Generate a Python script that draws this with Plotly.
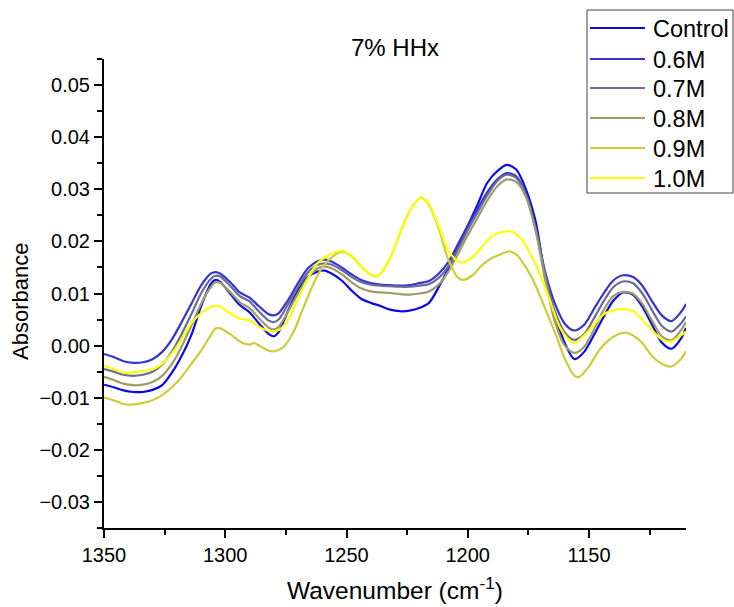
import plotly.graph_objects as go

# ---------------- data ----------------
series_names = ["Control", "0.6M", "0.7M", "0.8M", "0.9M", "1.0M"]
series_colors = ["#0A0AEB", "#3535CC", "#6A6A9E", "#9C9C6A", "#CDCD3A", "#FFFF00"]

wn_control = [1350, 1346, 1342, 1338, 1334, 1330, 1326, 1322, 1318, 1314, 1310, 1306, 1304, 1302,
              1298, 1294, 1290, 1286, 1282, 1280, 1278, 1274, 1270, 1266, 1262, 1259, 1256, 1252,
              1248, 1244, 1240, 1236, 1232, 1228, 1224, 1220, 1216, 1212, 1208, 1204, 1200, 1196,
              1192, 1188, 1184, 1180, 1176, 1172, 1168, 1164, 1160, 1156, 1152, 1148, 1144, 1140,
              1136, 1132, 1128, 1124, 1120, 1116, 1112, 1110]
abs_control = [-0.0075, -0.0080, -0.0086, -0.0089, -0.0089, -0.0085, -0.0076, -0.0052, -0.0020, 0.0020, 0.0075, 0.0118, 0.0126, 0.0122,
               0.0100, 0.0078, 0.0064, 0.0042, 0.0022, 0.0018, 0.0026, 0.0068, 0.0106, 0.0132, 0.0142, 0.0144, 0.0138, 0.0125,
               0.0106, 0.0090, 0.0082, 0.0076, 0.0069, 0.0066, 0.0067, 0.0072, 0.0082, 0.0112, 0.0148, 0.0190, 0.0230, 0.0270,
               0.0312, 0.0334, 0.0347, 0.0338, 0.0300, 0.0238, 0.0130, 0.0058, 0.0005, -0.0026, -0.0012, 0.0020, 0.0055, 0.0086,
               0.0102, 0.0098, 0.0075, 0.0040, 0.0006, -0.0006, 0.0014, 0.0034]

wn_06 = [1350, 1346, 1342, 1338, 1334, 1330, 1326, 1322, 1318, 1314, 1310, 1306, 1304, 1302,
         1298, 1294, 1290, 1286, 1282, 1280, 1278, 1274, 1270, 1266, 1262, 1259, 1256, 1252,
         1248, 1244, 1240, 1236, 1232, 1228, 1224, 1220, 1216, 1212, 1208, 1204, 1200, 1196,
         1192, 1188, 1184, 1180, 1176, 1172, 1168, 1164, 1160, 1156, 1152, 1148, 1144, 1140,
         1136, 1132, 1128, 1124, 1120, 1116, 1112, 1110]
abs_06 = [-0.0016, -0.0022, -0.0030, -0.0033, -0.0032, -0.0026, -0.0012, 0.0012, 0.0045, 0.0080, 0.0115, 0.0138, 0.0141, 0.0138,
          0.0122, 0.0102, 0.0092, 0.0075, 0.0060, 0.0058, 0.0062, 0.0088, 0.0120, 0.0148, 0.0162, 0.0165, 0.0161, 0.0150,
          0.0137, 0.0126, 0.0120, 0.0117, 0.0116, 0.0115, 0.0116, 0.0120, 0.0124, 0.0138, 0.0160, 0.0195, 0.0230, 0.0262,
          0.0294, 0.0318, 0.0331, 0.0325, 0.0290, 0.0225, 0.0140, 0.0080, 0.0042, 0.0029, 0.0040, 0.0070, 0.0100, 0.0125,
          0.0135, 0.0132, 0.0115, 0.0085, 0.0058, 0.0047, 0.0065, 0.0080]

wn_07 = wn_06
abs_07 = [-0.0045, -0.0050, -0.0056, -0.0058, -0.0056, -0.0050, -0.0036, -0.0012, 0.0022, 0.0060, 0.0100, 0.0128, 0.0134, 0.0132,
          0.0115, 0.0095, 0.0085, 0.0065, 0.0048, 0.0045, 0.0050, 0.0080, 0.0112, 0.0140, 0.0155, 0.0158, 0.0155, 0.0145,
          0.0132, 0.0122, 0.0117, 0.0115, 0.0114, 0.0113, 0.0113, 0.0115, 0.0118, 0.0130, 0.0152, 0.0185, 0.0222, 0.0255,
          0.0288, 0.0315, 0.0328, 0.0322, 0.0290, 0.0225, 0.0135, 0.0065, 0.0025, 0.0011, 0.0022, 0.0052, 0.0085, 0.0112,
          0.0123, 0.0120, 0.0100, 0.0068, 0.0038, 0.0027, 0.0043, 0.0056]

wn_08 = wn_06
abs_08 = [-0.0060, -0.0066, -0.0073, -0.0076, -0.0075, -0.0070, -0.0058, -0.0035, -0.0002, 0.0038, 0.0080, 0.0112, 0.0122, 0.0120,
          0.0103, 0.0083, 0.0072, 0.0052, 0.0034, 0.0031, 0.0036, 0.0066, 0.0100, 0.0130, 0.0148, 0.0152, 0.0148, 0.0137,
          0.0122, 0.0110, 0.0104, 0.0102, 0.0101, 0.0099, 0.0098, 0.0100, 0.0104, 0.0117, 0.0142, 0.0176, 0.0212, 0.0245,
          0.0278, 0.0305, 0.0319, 0.0314, 0.0285, 0.0220, 0.0125, 0.0045, 0.0000, -0.0014, -0.0002, 0.0030, 0.0068, 0.0095,
          0.0103, 0.0100, 0.0080, 0.0048, 0.0018, 0.0010, 0.0030, 0.0045]

wn_09 = [1350, 1346, 1342, 1338, 1334, 1330, 1326, 1322, 1318, 1314, 1310, 1306, 1304, 1302,
         1298, 1294, 1290, 1288, 1286, 1282, 1280, 1276, 1272, 1268, 1264, 1260, 1256, 1252,
         1248, 1244, 1240, 1238, 1236, 1232, 1228, 1224, 1220, 1219, 1216, 1212, 1208, 1204,
         1202, 1198, 1194, 1190, 1186, 1183, 1180, 1176, 1172, 1168, 1164, 1160, 1156, 1154,
         1150, 1146, 1142, 1138, 1135, 1132, 1128, 1124, 1120, 1116, 1112, 1110]
abs_09 = [-0.0100, -0.0105, -0.0112, -0.0113, -0.0110, -0.0105, -0.0095, -0.0080, -0.0060, -0.0035, -0.0010, 0.0020, 0.0033, 0.0033,
          0.0022, 0.0008, 0.0002, 0.0005, 0.0000, -0.0010, -0.0011, -0.0003, 0.0025, 0.0070, 0.0115, 0.0150, 0.0170, 0.0180,
          0.0172, 0.0152, 0.0136, 0.0133, 0.0138, 0.0168, 0.0215, 0.0258, 0.0282, 0.0284, 0.0270, 0.0225, 0.0165, 0.0130,
          0.0126, 0.0135, 0.0155, 0.0168, 0.0176, 0.0181, 0.0175, 0.0150, 0.0115, 0.0070, 0.0025, -0.0025, -0.0058, -0.0060,
          -0.0040, -0.0010, 0.0010, 0.0022, 0.0025, 0.0020, 0.0005, -0.0020, -0.0035, -0.0040, -0.0025, -0.0011]

wn_10 = [1350, 1346, 1342, 1338, 1334, 1330, 1326, 1322, 1318, 1314, 1310, 1306, 1304, 1302,
         1298, 1294, 1290, 1286, 1282, 1278, 1274, 1270, 1266, 1262, 1258, 1254, 1252, 1248,
         1244, 1240, 1238, 1236, 1232, 1228, 1224, 1220, 1219, 1216, 1212, 1208, 1204, 1202,
         1198, 1194, 1190, 1186, 1182, 1178, 1174, 1170, 1166, 1162, 1158, 1156, 1152, 1148,
         1144, 1140, 1136, 1132, 1128, 1124, 1120, 1116, 1112, 1110]
abs_10 = [-0.0038, -0.0045, -0.0052, -0.0051, -0.0049, -0.0046, -0.0035, -0.0015, 0.0012, 0.0043, 0.0062, 0.0074, 0.0077, 0.0075,
          0.0062, 0.0052, 0.0048, 0.0036, 0.0028, 0.0030, 0.0050, 0.0090, 0.0128, 0.0158, 0.0172, 0.0180, 0.0182, 0.0172,
          0.0152, 0.0136, 0.0133, 0.0138, 0.0168, 0.0215, 0.0258, 0.0282, 0.0284, 0.0272, 0.0230, 0.0182, 0.0162, 0.0160,
          0.0170, 0.0190, 0.0210, 0.0218, 0.0219, 0.0205, 0.0175, 0.0135, 0.0085, 0.0035, 0.0010, 0.0005, 0.0020, 0.0040,
          0.0060, 0.0068, 0.0070, 0.0067, 0.0050, 0.0030, 0.0012, 0.0008, 0.0020, 0.0027]

x_tick_values = [1350, 1300, 1250, 1200, 1150]
y_tick_values = [-0.03, -0.02, -0.01, 0.00, 0.01, 0.02, 0.03, 0.04, 0.05]

all_x = [wn_control, wn_06, wn_07, wn_08, wn_09, wn_10]
all_y = [abs_control, abs_06, abs_07, abs_08, abs_09, abs_10]

FONT = "Liberation Sans, Arial, Helvetica, sans-serif"

# plot-area geometry in pixels (figure 734 x 607)
PL, PR, PT, PB = 104, 686, 59, 528
PW, PH = PR - PL, PB - PT


def px_x(px):
    return (px - PL) / PW


def px_y(py):
    return (PB - py) / PH


fig = go.Figure()
for name, color, xs, ys in zip(series_names, series_colors, all_x, all_y):
    fig.add_trace(go.Scatter(
        x=xs, y=ys, mode="lines", name=name,
        line=dict(color=color, width=2.2, shape="spline", smoothing=0.8),
    ))

# legend drawn as a framed key (long line samples like the reference)
shapes = [dict(type="rect", xref="paper", yref="paper",
               x0=px_x(587), x1=px_x(733), y0=px_y(193), y1=px_y(10),
               line=dict(color="#404040", width=1), fillcolor="white", layer="above")]
annotations = []
legend_rows = [28, 59, 88, 118, 148, 178]
for name, color, row in zip(series_names, series_colors, legend_rows):
    shapes.append(dict(type="line", xref="paper", yref="paper",
                       x0=px_x(590), x1=px_x(645), y0=px_y(row), y1=px_y(row),
                       line=dict(color=color, width=2.2), layer="above"))
    annotations.append(dict(text=name, xref="paper", yref="paper",
                            x=px_x(651), y=px_y(row + 1), xanchor="left", yanchor="middle",
                            showarrow=False, font=dict(family=FONT, size=23.5, color="black")))

annotations += [
    dict(text="7% HHx", xref="paper", yref="paper", x=0.5, y=px_y(47),
         xanchor="center", yanchor="middle", showarrow=False,
         font=dict(family=FONT, size=24)),
    dict(text="Wavenumber (cm<sup>-1</sup>)", xref="paper", yref="paper",
         x=0.5, y=px_y(588), xanchor="center", yanchor="middle", showarrow=False,
         font=dict(family=FONT, size=24.5)),
    dict(text="Absorbance", xref="paper", yref="paper", textangle=-90,
         x=px_x(20), y=px_y(302), xanchor="center", yanchor="middle", showarrow=False,
         font=dict(family=FONT, size=22)),
]

fig.update_layout(
    width=734, height=607,
    margin=dict(l=PL, r=734 - PR, t=PT, b=607 - PB),
    paper_bgcolor="white", plot_bgcolor="white",
    font=dict(family=FONT, color="black", size=20),
    showlegend=False,
    xaxis=dict(
        range=[1350, 1110], tickmode="array", tickvals=x_tick_values,
        ticks="outside", ticklen=8, tickwidth=1.5, tickcolor="black",
        showline=True, linecolor="black", linewidth=2, mirror=False,
        showgrid=False, zeroline=False,
        tickfont=dict(family=FONT, size=20),
        minor=dict(dtick=25, tick0=1350, ticks="outside", ticklen=5, tickwidth=1.5, tickcolor="black", showgrid=False),
    ),
    yaxis=dict(
        range=[-0.035, 0.055], tickmode="array", tickvals=y_tick_values,
        tickformat=".2f",
        ticks="outside", ticklen=8, tickwidth=1.5, tickcolor="black",
        showline=True, linecolor="black", linewidth=2, mirror=False,
        showgrid=False, zeroline=False,
        tickfont=dict(family=FONT, size=20),
        minor=dict(dtick=0.005, tick0=0, ticks="outside", ticklen=5, tickwidth=1.5, tickcolor="black", showgrid=False),
    ),
    shapes=shapes,
    annotations=annotations,
)

fig.write_html("out.html")
